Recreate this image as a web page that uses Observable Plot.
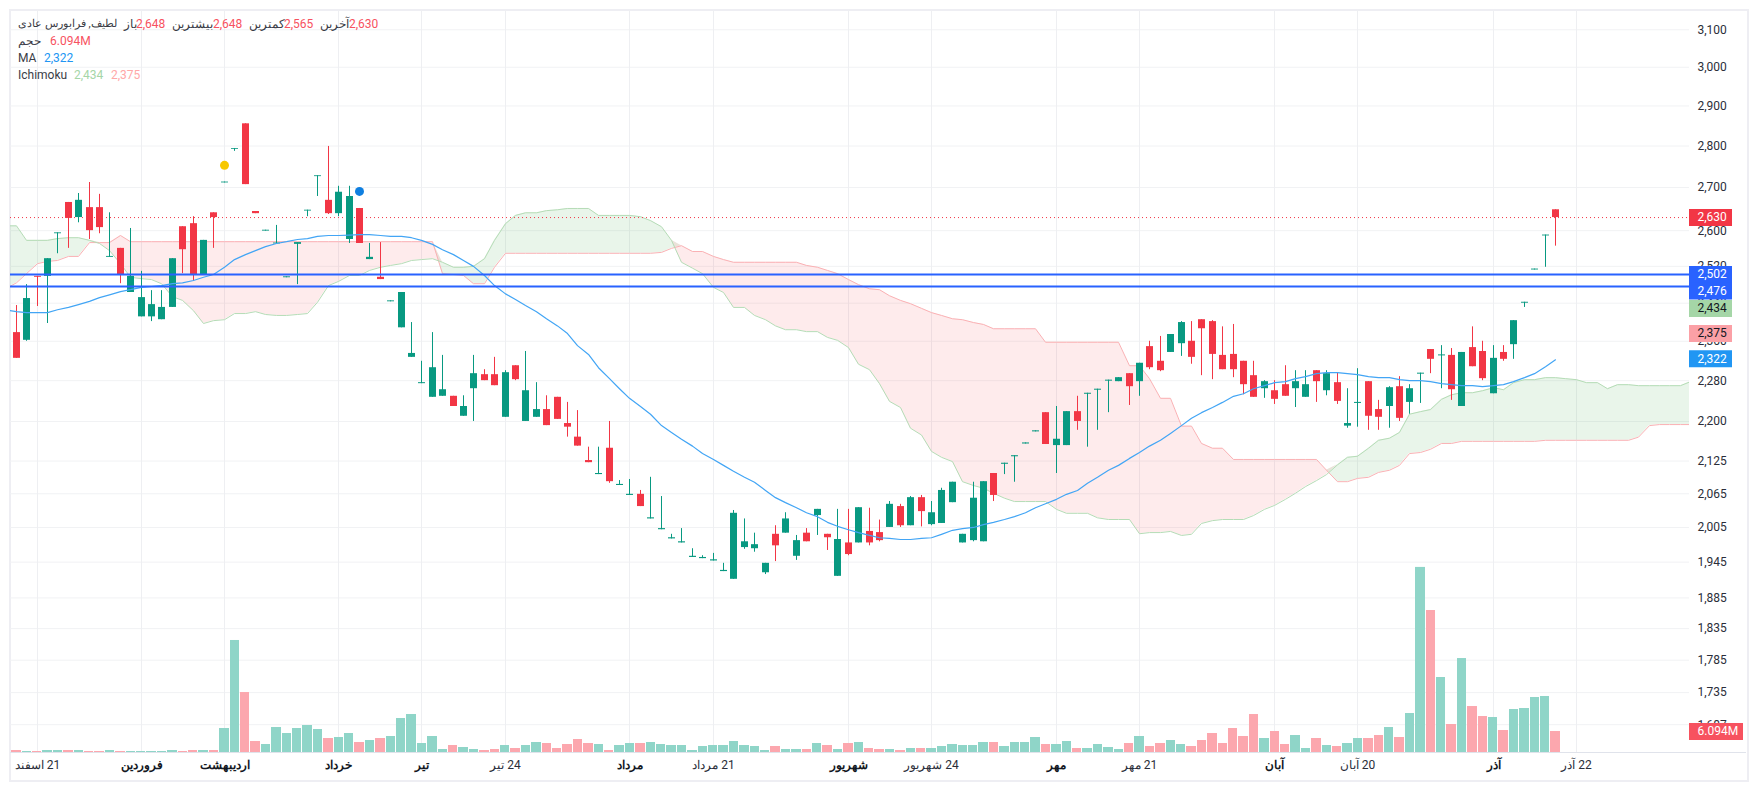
<!DOCTYPE html>
<html lang="fa">
<head>
<meta charset="utf-8">
<title>لطیف</title>
<script src="https://cdn.jsdelivr.net/npm/d3@7"></script>
<script src="https://cdn.jsdelivr.net/npm/@observablehq/plot@0.6"></script>
<style>
html,body{margin:0;padding:0;background:#fff;overflow:hidden}
#wrap{position:relative;width:1757px;height:790px;font-family:Roboto,"Noto Sans",sans-serif;overflow:hidden}
#wrap svg{position:absolute;left:0;top:0;overflow:visible;background:transparent}
#frame{position:absolute;left:9px;top:9px;width:1736px;height:769px;border:2px solid #eeeef3;pointer-events:none}
.legend{position:absolute;left:18px;white-space:nowrap;font-size:12px;line-height:16px;color:#3a3d46;z-index:5}
.legend span{position:absolute;top:0}
</style>
</head>
<body>
<div id="wrap"><div id="frame"></div></div>
<script>
const openPrices = [2378,2362,2498,2498,2593,2665,2630,2653,2653,2540,
2560,2463,2411,2411,2405,2431,2609,2616,2502,2641,
2711,2792,2855,2644,2599,2570,2495,2569,2645,2726,
2670,2639,2580,2651,2535,2496,2443,2388,2327,2274,
2247,2249,2249,2210,2264,2292,2292,2208,2310,2200,
2208,2223,2247,2196,2170,2126,2100,2149,2080,2062,
2064,2020,2001,1985,1978,1953,1951,1947,1929,1916,
1970,1968,1927,1993,1995,1955,1995,2026,1993,1921,
1978,1978,1998,1996,2005,2042,2008,2058,2010,2012,
2049,1978,1982,1980,2102,2119,2133,2157,2180,2217,
2154,2154,2219,2253,2261,2279,2278,2294,2278,2349,
2319,2337,2355,2360,2405,2401,2331,2333,2319,2290,
2264,2260,2272,2264,2247,2300,2260,2276,2191,2235,
2278,2223,2229,2268,2237,2293,2343,2330,2331,2229,
2347,2339,2254,2337,2353,2440,2512,2588,2648];
const closePrices = [2325,2450,2496,2537,2595,2628,2670,2600,2607,2542,
2502,2498,2452,2437,2431,2537,2557,2502,2578,2630,
2713,2794,2707,2639,2601,2572,2497,2573,2647,2728,
2639,2689,2679,2571,2540,2491,2445,2463,2335,2276,
2306,2262,2229,2229,2294,2280,2270,2296,2282,2260,
2223,2192,2204,2189,2153,2122,2102,2087,2082,2064,
2042,2022,2003,1987,1980,1955,1953,1949,1931,2030,
1980,1975,1943,1973,2020,1982,1980,2037,1987,1984,
1958,2040,1978,1982,2046,2008,2058,2033,2031,2071,
2086,1993,2057,2087,2062,2121,2135,2159,2182,2156,
2166,2219,2200,2255,2263,2281,2286,2268,2315,2306,
2300,2374,2399,2327,2386,2333,2302,2302,2272,2247,
2278,2243,2249,2278,2272,2278,2294,2239,2196,2237,
2210,2208,2266,2206,2264,2295,2323,2332,2262,2337,
2308,2284,2325,2323,2403,2442,2514,2590,2630];
const highPrices = [2435,2480,2498,2537,2595,2665,2686,2712,2684,2641,
2560,2605,2509,2467,2467,2537,2609,2632,2578,2641,
2713,2794,2855,2644,2601,2612,2497,2573,2647,2728,
2799,2703,2703,2651,2571,2573,2445,2463,2399,2319,
2378,2331,2249,2250,2331,2302,2327,2300,2310,2339,
2276,2250,2247,2237,2221,2151,2151,2200,2089,2091,
2071,2095,2060,1993,2003,1968,1956,1960,1943,2035,
2020,1995,1943,2008,2031,1991,2003,2037,1993,2037,
2037,2040,2039,2018,2051,2046,2060,2062,2051,2075,
2086,1993,2086,2087,2102,2121,2135,2159,2182,2217,
2229,2219,2249,2255,2263,2281,2286,2294,2315,2360,
2370,2374,2401,2401,2405,2403,2390,2395,2319,2319,
2280,2280,2310,2300,2300,2300,2300,2296,2264,2304,
2278,2241,2268,2288,2272,2295,2343,2351,2345,2337,
2390,2360,2351,2351,2403,2442,2514,2590,2648];
const lowPrices = [2325,2360,2433,2397,2548,2560,2618,2580,2593,2540,
2482,2463,2411,2401,2405,2431,2504,2487,2502,2560,
2711,2787,2707,2639,2599,2570,2495,2480,2632,2679,
2637,2632,2571,2571,2535,2491,2443,2388,2327,2274,
2247,2249,2229,2210,2200,2280,2270,2208,2280,2200,
2208,2192,2204,2170,2153,2122,2100,2084,2080,2062,
2042,2020,2001,1985,1978,1953,1951,1947,1929,1916,
1967,1962,1924,1946,1995,1948,1980,1991,1965,1921,
1956,1978,1973,1980,2005,2005,2008,2006,2008,2012,
2049,1978,1980,1980,2051,2100,2086,2157,2180,2156,
2102,2154,2183,2151,2183,2217,2278,2231,2249,2302,
2298,2337,2329,2313,2290,2282,2302,2286,2252,2247,
2245,2233,2249,2227,2247,2237,2250,2233,2187,2189,
2183,2183,2187,2200,2214,2235,2294,2264,2241,2229,
2308,2280,2254,2319,2323,2431,2512,2518,2565];
const volumesM = [.58,.29,.29,.58,.58,.58,.58,.29,.29,.58,
.29,.29,.29,.29,.29,.58,.29,.58,.58,.58,
6.96,32.5,17.4,3.19,2.32,7.25,5.51,6.96,7.83,6.67,
4.06,4.35,5.51,2.9,3.48,4.06,4.64,9.86,11.02,2.61,
4.64,.87,2.03,1.45,.87,.58,.87,2.03,1.16,2.03,
2.9,2.61,1.16,2.32,3.77,2.61,2.32,.58,2.03,2.61,
2.61,2.9,2.32,2.03,2.03,.58,1.74,2.03,2.03,3.19,
2.03,1.74,.58,1.74,.87,.87,.87,2.61,2.03,.87,
2.61,2.9,1.16,.87,.87,.58,1.16,1.16,1.16,1.74,
2.32,2.03,2.03,2.9,2.9,1.74,2.9,2.9,4.35,2.32,
2.32,3.19,1.16,1.16,2.32,1.45,.87,2.61,4.64,1.74,
2.61,3.48,2.32,1.74,3.48,5.51,2.61,6.96,4.64,11.02,
4.06,6.09,2.32,4.93,1.16,4.06,2.03,1.74,2.61,4.06,
4.06,4.93,7.25,4.35,11.31,53.7,41.2,21.76,8.12,27.26,
13.34,10.44,10.15,6.38,12.47,12.76,15.96,16.25,6.094];
// Ichimoku and MA start one bar before the first candle (bar -1)
const ichimokuGreen = [2611,2611,2578,2578,2578,2582,2584,2584,2578,2571,2555,
2526,2496,2493,2491,2482,2454,2446,2424,2397,2403,
2405,2418,2418,2422,2416,2414,2414,2416,2418,2442,
2478,2487,2500,2500,2511,2518,2522,2526,2533,2535,
2537,2529,2518,2518,2520,2537,2578,2616,2635,2641,
2641,2646,2648,2651,2651,2651,2635,2635,2635,2635,
2632,2623,2609,2578,2529,2516,2504,2474,2463,2431,
2431,2414,2405,2392,2384,2384,2380,2380,2368,2362,
2347,2313,2302,2274,2239,2227,2187,2174,2143,2132,
2124,2087,2080,2075,2066,2057,2051,2051,2051,2051,
2037,2030,2030,2030,2022,2019,2019,2019,1994,1996,
1996,1998,1991,1993,2012,2017,2019,2019,2019,2026,
2037,2044,2055,2066,2078,2089,2100,2118,2132,2134,
2149,2164,2168,2179,2214,2219,2223,2243,2252,2256,
2256,2260,2266,2262,2276,2282,2282,2286,2286,2284,
2282,2276,2276,2264,2272,2272,2270,2270,2270,2270,2270,2278];
const ichimokuRed = [2471,2484,2504,2526,2531,2533,2542,2542,2573,2573,2573,
2589,2575,2575,2575,2575,2575,2575,2575,2575,2575,
2575,2575,2575,2575,2575,2575,2575,2575,2575,2575,
2575,2575,2575,2575,2575,2575,2575,2575,2575,2575,
2575,2504,2502,2500,2482,2482,2518,2549,2549,2549,
2549,2549,2549,2549,2549,2549,2549,2549,2549,2549,
2549,2549,2551,2560,2566,2553,2553,2542,2535,2529,
2529,2529,2529,2529,2529,2529,2522,2518,2511,2504,
2491,2480,2471,2469,2456,2446,2439,2429,2420,2414,
2407,2405,2399,2395,2386,2386,2386,2386,2386,2358,
2358,2358,2358,2358,2358,2358,2358,2310,2310,2284,
2245,2245,2191,2191,2158,2149,2149,2128,2128,2128,
2128,2128,2128,2128,2128,2128,2108,2087,2087,2093,
2095,2104,2108,2117,2139,2141,2147,2158,2158,2162,
2162,2162,2162,2162,2162,2162,2162,2164,2164,2164,
2164,2164,2164,2164,2164,2164,2170,2192,2194,2194,2194,2194];
const movingAverage = [2426,2422,2420,2420,2420,2426,2431,2437,2444,2452,2458,
2465,2469,2474,2476,2478,2482,2484,2489,2496,2502,
2518,2535,2546,2555,2564,2571,2575,2580,2582,2587,
2589,2589,2590,2591,2591,2589,2587,2587,2584,2578,
2569,2557,2546,2533,2520,2500,2478,2460,2448,2435,
2422,2407,2392,2376,2351,2333,2306,2284,2264,2245,
2229,2214,2192,2179,2166,2153,2139,2128,2117,2106,
2095,2086,2071,2058,2049,2040,2031,2024,2014,2007,
2001,1996,1991,1987,1986,1984,1984,1986,1987,1993,
2000,2003,2005,2010,2014,2019,2024,2031,2040,2047,
2055,2064,2071,2084,2095,2108,2117,2130,2141,2153,
2164,2177,2192,2206,2217,2227,2237,2249,2254,2264,
2270,2276,2278,2284,2288,2294,2296,2296,2294,2292,
2288,2286,2286,2282,2280,2280,2278,2274,2272,2270,
2270,2268,2270,2272,2278,2286,2294,2308,2322];
const priceTicks = [3100,3000,2900,2800,2700,2600,2520,2440,2360,2280,2200,2125,2065,2005,1945,1885,1835,1785,1735,1687];
const monthBars = [12,20,31,39,59,80,100,121,142];
const monthNames = ["فروردین","اردیبهشت","خرداد","تیر","مرداد","شهریور","مهر","آبان","آذر"];
const dateBars = [2,47,67,88,108,129,150];
const dateNames = ["21 اسفند","24 تیر","21 مرداد","24 شهریور","21 مهر","20 آبان","22 آذر"];
const levelPrices = [2502,2476];
const lastPrice = 2630;
const eventBars = [20,33];
const eventPrices = [2753,2691];
const eventColors = ["#f7c800","#0f7fe0"];
const pillValues = [2630,2502,2476,2434,2375,2322];
const pillColors = ["#f23645","#2962ff","#2962ff","#a5d6a7","#fba0a6","#2196f3"];
const pillText = ["#fff","#fff","#fff","#131722","#131722","#fff"];
const pillShift = [0,0,4.5,2.5,-0.5,-1];

const GREEN="#089981", RED="#f23645";
const candles = openPrices.map((o,i)=>({i,o,c:closePrices[i],h:highPrices[i],l:lowPrices[i],v:volumesM[i],up:closePrices[i]>=o}));
const up = candles.filter(d=>d.up), down = candles.filter(d=>!d.up);
const cloud = ichimokuGreen.map((a,k)=>({i:k-1,a,b:ichimokuRed[k]}));
const ma = movingAverage.map((p,k)=>({i:k-1,p}));
const months = monthBars.map((i,k)=>({i,t:monthNames[k]}));
const dates = dateBars.map((i,k)=>({i,t:dateNames[k]}));
const events = eventBars.map((i,k)=>({i,p:eventPrices[k],c:eventColors[k]}));

const xDomain = [-0.5625,160.88];
const xScale = {domain:xDomain,range:[10,1689],round:true};
const barAtPx = px => (px-15.85)/10.4;
const base = {width:1757,height:790,marginLeft:10,marginRight:68,marginTop:10,marginBottom:38,
  style:{fontFamily:'Roboto,"Noto Sans",sans-serif',fontSize:"12px",background:"transparent"}};

const pillMarks = pillValues.flatMap((v,k)=>[
  Plot.ruleY([v],{x1:()=>xDomain[1],x2:()=>barAtPx(1732),dy:pillShift[k],stroke:pillColors[k],strokeWidth:17}),
  Plot.text([v],{y:d=>d,x:()=>barAtPx(1697),dy:pillShift[k],text:d=>d3.format(",")(d),fill:pillText[k],textAnchor:"start",fontSize:12})
]);

const pricePlot = Plot.plot({...base,
  x:{...xScale,axis:null},
  y:{type:"log",domain:[1646.4,3152.8],axis:null},
  marks:[
    Plot.gridY(priceTicks,{stroke:"#f1f2f4",strokeOpacity:1,strokeWidth:1}),
    Plot.gridX(monthBars.concat(dateBars),{stroke:"#eeeff2",strokeOpacity:1,strokeWidth:1}),
    Plot.ruleY([1646.4],{x1:()=>xDomain[0],x2:()=>barAtPx(1746),stroke:"#e0e3eb",strokeWidth:1}),
    Plot.axisY(priceTicks,{anchor:"right",label:null,tickSize:0,tickPadding:8,tickFormat:d3.format(","),fill:"#2a2e39",fontSize:12}),
    Plot.area(cloud,{x1:"i",y1:"b",y2:d=>Math.max(d.a,d.b),fill:"#4caf50",fillOpacity:.12,clip:true,curve:"linear"}),
    Plot.area(cloud,{x1:"i",y1:"a",y2:d=>Math.max(d.a,d.b),fill:"#f23645",fillOpacity:.1,clip:true,curve:"linear"}),
    Plot.line(cloud,{x:"i",y:"b",stroke:"#fab1b4",strokeWidth:1,clip:true}),
    Plot.line(cloud,{x:"i",y:"a",stroke:"#b5dcb6",strokeWidth:1,clip:true}),
    Plot.ruleY([lastPrice],{stroke:RED,strokeWidth:1,strokeDasharray:"1 3"}),
    Plot.ruleX(up,{x:"i",y1:"l",y2:"h",stroke:GREEN,strokeWidth:1}),
    Plot.ruleX(down,{x:"i",y1:"l",y2:"h",stroke:RED,strokeWidth:1}),
    Plot.ruleX(up,{x:"i",y1:"o",y2:"c",stroke:GREEN,strokeWidth:7}),
    Plot.ruleX(down,{x:"i",y1:"o",y2:"c",stroke:RED,strokeWidth:7}),
    Plot.line(ma,{x:"i",y:"p",stroke:"#42a5f5",strokeWidth:1.2,clip:true}),
    Plot.ruleY(levelPrices,{stroke:"#2962ff",strokeWidth:2}),
    Plot.dot(events,{x:"i",y:"p",r:4.5,fill:"c"}),
    ...pillMarks,
    Plot.text(months,{x:"i",text:"t",frameAnchor:"bottom",lineAnchor:"middle",dy:13,fontWeight:"bold",fill:"#131722",fontSize:12}),
    Plot.text(dates,{x:"i",text:"t",frameAnchor:"bottom",lineAnchor:"middle",dy:13,fill:"#2a2e39",fontSize:12})
  ]
});
// the date labels read right to left: day number on the right
pricePlot.querySelectorAll("text").forEach(t=>{
  if(dateNames.includes(t.textContent)||monthNames.includes(t.textContent)) t.style.direction="rtl";
});

const volumePlot = Plot.plot({...base,
  x:{...xScale,axis:null},
  y:{domain:[0,60],range:[752,545.2],axis:null},
  marks:[
    Plot.rect(up,{x1:d=>d.i-.45,x2:d=>d.i+.45,y1:()=>0,y2:"v",fill:"#8fd5c8"}),
    Plot.rect(down,{x1:d=>d.i-.45,x2:d=>d.i+.45,y1:()=>0,y2:"v",fill:"#fca7ae"}),
    Plot.ruleY([6.094],{x1:()=>xDomain[1],x2:()=>barAtPx(1743),stroke:"#f7525f",strokeWidth:17}),
    Plot.text([6.094],{y:d=>d,x:()=>barAtPx(1697),text:d=>d.toFixed(3)+"M",fill:"#fff",textAnchor:"start",fontSize:12})
  ]
});

const wrap = document.getElementById("wrap");
wrap.appendChild(pricePlot);
wrap.appendChild(volumePlot);

// legend rows: top, then [left, text, colour, rtl, font size]
const legendRows = [
  [16,[[18,"لطیف, فرابورس عادی",null,true,11],[124,"باز",null,true],[136,"2,648","#f7525f"],[172,"بیشترین",null,true],[213,"2,648","#f7525f"],[249,"کمترین",null,true],[284,"2,565","#f7525f"],[320,"آخرین",null,true],[349,"2,630","#f7525f"]]],
  [33,[[18,"حجم",null,true],[50,"6.094M","#f7525f"]]],
  [50,[[18,"MA"],[44,"2,322","#2196f3"]]],
  [67,[[18,"Ichimoku"],[74,"2,434","#a5d6a7"],[111,"2,375","#ffa8a8"]]]
];
for (const [top,items] of legendRows) {
  const row=document.createElement("div");
  row.className="legend"; row.style.top=top+"px"; row.style.left="0";
  for (const [x,t,c,rtl,fs] of items) {
    const s=document.createElement("span");
    s.textContent=t; s.style.left=x+"px";
    if(c) s.style.color=c;
    if(rtl) s.dir="rtl";
    if(fs) s.style.fontSize=fs+"px";
    row.appendChild(s);
  }
  wrap.appendChild(row);
}
</script>
</body>
</html>
